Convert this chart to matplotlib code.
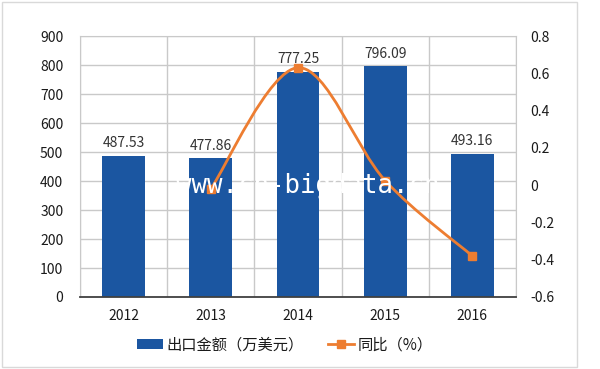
import numpy as np
import matplotlib
matplotlib.use("Agg")
import matplotlib.pyplot as plt
from matplotlib.path import Path
from matplotlib.patches import PathPatch, Rectangle, Patch
from matplotlib.lines import Line2D

plt.rcParams['font.family'] = ['Noto Sans CJK SC', 'DejaVu Sans']
plt.rcParams['axes.unicode_minus'] = False

# data
years = ['2012', '2013', '2014', '2015', '2016']
export_value = [487.53, 477.86, 777.25, 796.09, 493.16]   # 出口金额（万美元）
yoy = [-0.02, 0.63, 0.024, -0.38]                          # 同比（%）, 2013-2016
value_ticks = [0, 100, 200, 300, 400, 500, 600, 700, 800, 900]
yoy_ticks = [-0.6, -0.4, -0.2, 0, 0.2, 0.4, 0.6, 0.8]

blue = '#1b56a1'
orange = '#ed7d31'
grid_c = '#c9c9c9'
txt_c = '#1a1a1a'

fig = plt.figure(figsize=(6, 3.69), dpi=100)
ax = fig.add_axes([80/600, 1 - 297/369, 436/600, 261/369])

x = np.arange(len(years))
ax.bar(x, export_value, width=0.49, color=blue, zorder=2)
for xi, v in zip(x, export_value):
    ax.annotate(f'{v:.2f}', (xi, v), xytext=(0, 4), textcoords='offset points',
                ha='center', va='bottom', fontsize=10, color='#333333', zorder=4)

ax.set_xlim(-0.5, len(years) - 0.5)
ax.set_ylim(0, 900)
ax.set_yticks(value_ticks)
ax.set_yticklabels([str(t) for t in value_ticks])
ax.set_xticks(x)
ax.set_xticklabels(years)
ax.set_xticks(np.arange(-0.5, len(years), 0.5), minor=True)
ax.tick_params(axis='both', which='both', length=0, labelsize=10, colors=txt_c)
ax.tick_params(axis='y', pad=12)
ax.tick_params(axis='x', pad=9)
ax.set_axisbelow(True)
ax.grid(axis='y', color=grid_c, linewidth=1)
ax.grid(axis='x', which='minor', color=grid_c, linewidth=1)
for s in ['left', 'right', 'top']:
    ax.spines[s].set_color(grid_c)
ax.spines['bottom'].set_color('#404040')
ax.spines['bottom'].set_linewidth(1.3)
ax.spines['bottom'].set_zorder(5)

# secondary axis: year-on-year change, smoothed line
ax2 = ax.twinx()
ax2.set_ylim(-0.6, 0.8)
ax2.set_yticks(yoy_ticks)
ax2.set_yticklabels([f'{t:g}' for t in yoy_ticks])
ax2.tick_params(axis='y', length=0, labelsize=10, colors=txt_c, pad=10)
for s in ax2.spines.values():
    s.set_visible(False)

xs = x[1:].astype(float)
pts = np.column_stack([xs, yoy])
ext = np.vstack([pts[0], pts, pts[-1]])
verts = [tuple(pts[0])]
codes = [Path.MOVETO]
for i in range(len(pts) - 1):
    p0, p1, p2, p3 = ext[i], ext[i + 1], ext[i + 2], ext[i + 3]
    c1 = p1 + (p2 - p0) / 6
    c2 = p2 - (p3 - p1) / 6
    verts += [tuple(c1), tuple(c2), tuple(p2)]
    codes += [Path.CURVE4] * 3
ax2.add_patch(PathPatch(Path(verts, codes), facecolor='none', edgecolor=orange,
                        linewidth=2.0, zorder=3))
ax2.plot(xs, yoy, ls='none', marker='s', markersize=5.5, color=orange, zorder=4)

# legend
handles = [Patch(facecolor=blue, edgecolor='none'),
           Line2D([], [], color=orange, linewidth=2.0, marker='s', markersize=6)]
fig.legend(handles, ['出口金额（万美元）', '同比（%）'], loc='center',
           bbox_to_anchor=(285/600, 1 - 345/369), ncol=2, frameon=False,
           fontsize=11, handlelength=1.7, handleheight=0.55, handletextpad=0.25,
           columnspacing=1.6, labelcolor=txt_c)

# watermark
fig.text(176/600, 1 - 193/369, 'www.cn-bigdata.cn', color='white', fontsize=18.5,
         family='DejaVu Sans Mono', ha='left', va='baseline', zorder=10)

# chart border
fig.patches.append(Rectangle((2/600, 2/369), 575/600, 365/369, transform=fig.transFigure,
                             fill=False, edgecolor='#d9d9d9', linewidth=1))

fig.savefig('out.png', dpi=100)
